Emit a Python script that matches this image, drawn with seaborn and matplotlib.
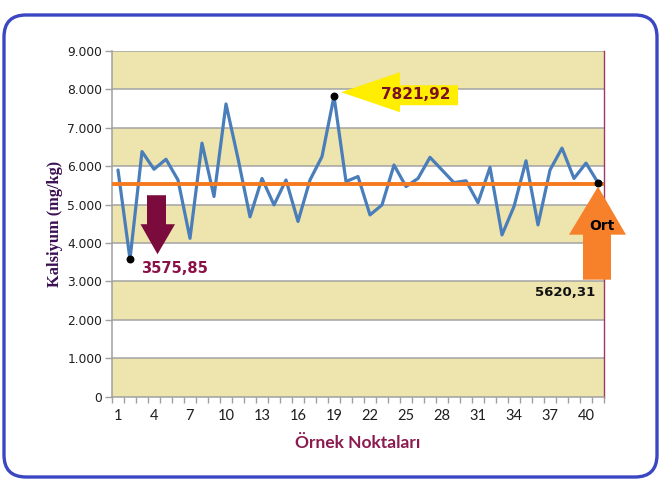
import matplotlib
matplotlib.use("Agg")
import numpy as np
import pandas as pd
import seaborn as sns
import matplotlib.pyplot as plt
from matplotlib.patches import Polygon, FancyBboxPatch
from matplotlib.transforms import IdentityTransform
from matplotlib.ticker import FuncFormatter, FixedLocator

# ---------------- data ----------------
points = list(range(1, 42))
calcium = [5900, 3575.85, 6380, 5920, 6180, 5640, 4120, 6600, 5210, 7620,
           6200, 4680, 5680, 4990, 5640, 4560, 5640, 6250, 7821.92, 5600,
           5730, 4730, 4990, 6030, 5470, 5680, 6230, 5900, 5570, 5620,
           5050, 5970, 4210, 4950, 6140, 4470, 5900, 6470, 5680, 6080,
           5570]
mean_level = 5540
min_label = "3575,85"
max_label = "7821,92"
mean_label = "5620,31"
mean_word = "Ort"
x_tick_labels = [1, 4, 7, 10, 13, 16, 19, 22, 25, 28, 31, 34, 37, 40]
y_ticks = [0, 1000, 2000, 3000, 4000, 5000, 6000, 7000, 8000, 9000]
x_title = "Örnek Noktaları"
y_title = "Kalsiyum (mg/kg)"

df = pd.DataFrame({"point": points, "calcium": calcium})

sns.set_theme(style="white")
plt.rcParams['font.family'] = ['DejaVu Sans']

W, H = 661, 480
fig = plt.figure(figsize=(W / 100, H / 100), dpi=100)
fig.patch.set_facecolor("white")

# outer rounded border
border = FancyBboxPatch((4, 3), 653, 462, boxstyle="round,pad=0,rounding_size=22",
                        transform=IdentityTransform(), fill=False,
                        edgecolor="#3A46C2", linewidth=2.4)
fig.add_artist(border)

ax = fig.add_axes([112 / W, 1 - 396.5 / H, (604 - 112) / W, (396.5 - 51) / H])
ax.set_xlim(0.5, 41.5)
ax.set_ylim(0, 9000)
ax.set_facecolor("white")

# alternating bands
tan = "#EEE4AE"
for i, lo in enumerate(y_ticks[:-1]):
    if i % 2 == 0:
        ax.axhspan(lo, lo + 1000, color=tan, zorder=0, lw=0)
for v in y_ticks[1:]:
    ax.axhline(v, color="#A3A3A3", lw=1.1, zorder=1)

sns.lineplot(data=df, x="point", y="calcium", color="#4A7EBB", lw=2.3,
             ax=ax, zorder=3)
ax.axhline(mean_level, color="#F57A1F", lw=2.8, zorder=4)

# highlighted points
i_min = int(np.argmin(calcium))
i_max = int(np.argmax(calcium))
i_last = len(calcium) - 1
ax.scatter([points[i] for i in (i_min, i_max, i_last)],
           [calcium[i] for i in (i_min, i_max, i_last)],
           s=22, color="black", zorder=6, clip_on=False)

# axes styling
for s in ["left", "bottom"]:
    ax.spines[s].set_color("#A0A0A0")
    ax.spines[s].set_linewidth(1.1)
ax.spines["top"].set_visible(False)
ax.spines["right"].set_color("#9B3A6A")
ax.spines["right"].set_linewidth(1.0)

ax.yaxis.set_major_locator(FixedLocator(y_ticks))
ax.yaxis.set_major_formatter(FuncFormatter(lambda v, p: f"{v:,.0f}".replace(",", ".")))
ax.tick_params(axis="y", which="major", direction="out", length=5, width=1,
               color="#A0A0A0", labelsize=8.8, labelcolor="#1E1E1E", pad=2, left=True)
ax.xaxis.set_major_locator(FixedLocator(x_tick_labels))
ax.set_xticklabels([str(v) for v in x_tick_labels], fontfamily="Lato",
                   fontsize=10.5, color="#1E1E1E")
ax.xaxis.set_minor_locator(FixedLocator(np.arange(0.5, 42, 1)))
ax.tick_params(axis="x", which="major", length=0, pad=9, bottom=True)
ax.tick_params(axis="x", which="minor", direction="out", length=4, width=1,
               color="#A0A0A0", bottom=True)

ax.set_xlabel(x_title, fontfamily="Lato", fontweight="bold", fontsize=12.5,
              color="#8B1A4F", labelpad=9)
ax.set_ylabel(y_title, fontfamily="Liberation Serif", fontweight="bold",
              fontsize=11.8, color="#3C1053", labelpad=3)

# ---------- annotations positioned from data points ----------
def anchor(i):
    return ax.transData.transform((points[i], calcium[i]))

def poly(base, offs, color):
    bx, by = base
    pts = [(bx + dx, by - dy) for dx, dy in offs]
    fig.add_artist(Polygon(pts, closed=True, transform=IdentityTransform(),
                           facecolor=color, edgecolor="none", zorder=7))

def label(base, dx, dy, text, **kw):
    bx, by = base
    t = fig.text(bx + dx, by - dy, text, transform=IdentityTransform(), **kw)
    t.set_zorder(9)

# down arrow near minimum
a = anchor(i_min)
poly(a, [(17, -64), (36, -64), (36, -35), (45, -35), (27.5, -5),
         (10.5, -35), (17, -35)], "#7A0B3C")
label(a, 11, 9, min_label, fontsize=10.5, fontweight="bold", color="#8B1048",
      ha="left", va="center")

# yellow left arrow near maximum
a = anchor(i_max)
poly(a, [(7, -4), (66, -24), (66, -11), (124, -11), (124, 9), (66, 9), (66, 16)],
     "#FFEE00")
label(a, 82, -2, max_label, fontsize=11, fontweight="bold", color="#7A1020",
      ha="center", va="center")

# orange up arrow at the last point (mean)
a = anchor(i_last)
poly(a, [(0, 4), (28, 52), (13, 52), (13, 97), (-15, 97), (-15, 52), (-29, 52)],
     "#F7802A")
label(a, 4, 43, mean_word, fontsize=10, fontweight="bold", color="black",
      ha="center", va="center")
label(a, -3, 110, mean_label, fontsize=9.5, fontweight="bold", color="#111111",
      ha="right", va="center")

fig.savefig("out.png", dpi=100)
